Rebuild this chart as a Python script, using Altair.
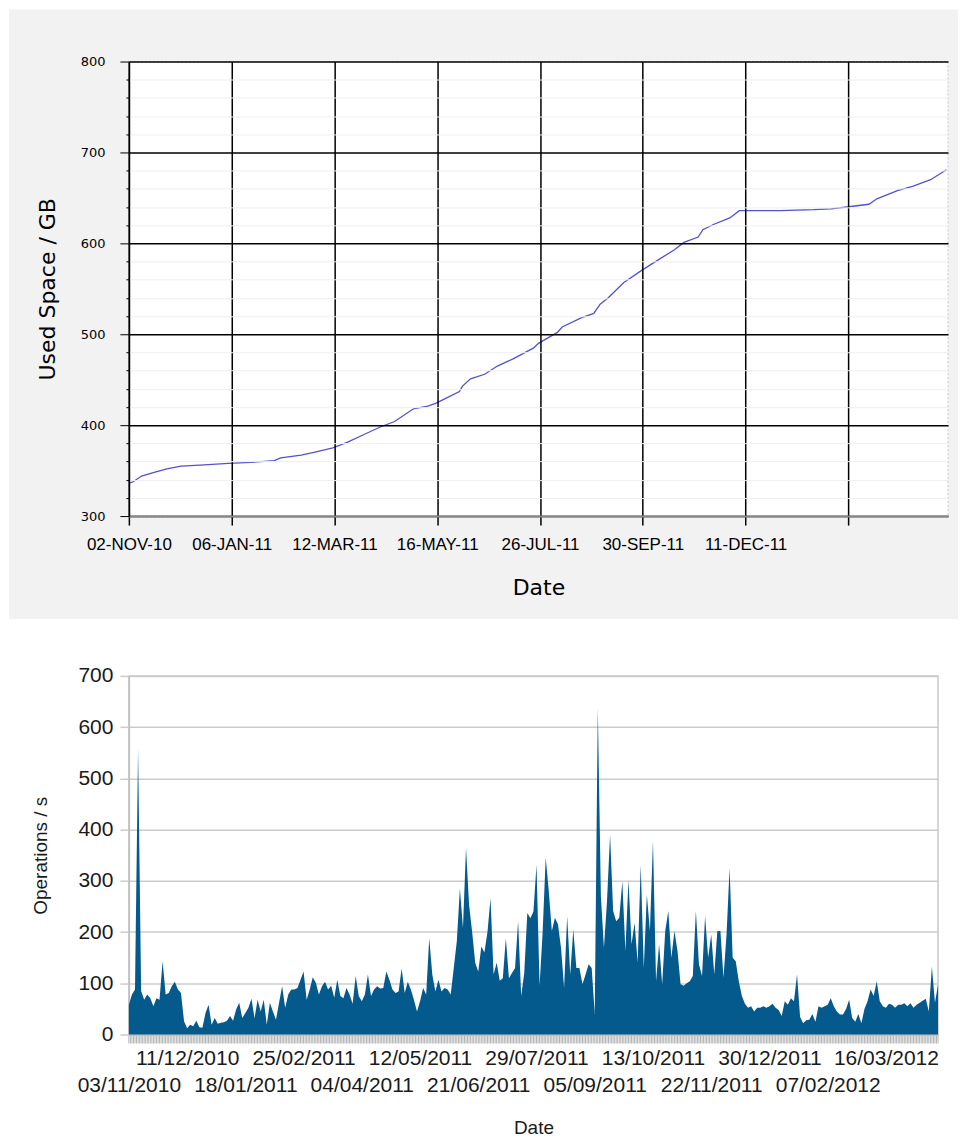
import json
import altair as alt
import pandas as pd

# ---------------- top chart: used space ----------------
top_tick_labels = ["02-NOV-10", "06-JAN-11", "12-MAR-11", "16-MAY-11",
                   "26-JUL-11", "30-SEP-11", "11-DEC-11", ""]
top_point_index = [0, 3, 8, 16, 24, 33, 45, 63, 77, 92, 96, 109, 117, 129, 138,
                   149, 159, 168, 180, 189, 194, 201, 209, 211, 216, 225, 233,
                   243, 256, 259, 265, 271, 274, 286, 294, 298, 303, 313, 324,
                   334, 345, 351, 360, 363, 370, 380, 386, 389, 412, 433, 444,
                   454, 468, 473, 486, 496, 507, 517]
top_used_gb = [336, 338, 344, 348, 352, 355, 356, 358, 359, 361, 364, 367, 370,
               375, 381, 390, 398, 404, 418, 421, 424, 430, 437, 443, 451, 456,
               465, 473, 485, 490, 496, 502, 508, 518, 523, 533, 540, 557, 570,
               581, 593, 601, 607, 615, 621, 628, 636, 636, 636, 637, 638, 640,
               643, 649, 658, 663, 670, 681]

# ---------------- bottom chart: operations / s (every 2nd point) ----------------
bottom_tick_labels = ["03/11/2010", "11/12/2010", "18/01/2011", "25/02/2011",
                      "04/04/2011", "12/05/2011", "21/06/2011", "29/07/2011",
                      "05/09/2011", "13/10/2011", "22/11/2011", "30/12/2011",
                      "07/02/2012", "16/03/2012"]
ops_per_s = [
    58, 78, 88, 558, 85, 68, 78, 71, 55, 71,
    68, 143, 78, 81, 94, 103, 88, 81, 26, 12,
    19, 16, 27, 14, 13, 42, 58, 19, 32, 21,
    23, 24, 27, 36, 27, 49, 62, 32, 42, 52,
    70, 32, 68, 45, 68, 19, 62, 45, 29, 62,
    94, 52, 78, 88, 88, 91, 107, 123, 68, 88,
    112, 101, 78, 94, 103, 88, 95, 72, 107, 75,
    71, 91, 78, 60, 114, 75, 65, 78, 117, 75,
    88, 94, 90, 91, 123, 107, 88, 81, 84, 129,
    81, 103, 88, 68, 45, 65, 91, 78, 188, 117,
    84, 107, 84, 91, 88, 78, 130, 182, 285, 208,
    364, 253, 200, 140, 123, 172, 160, 200, 266, 117,
    140, 105, 110, 188, 110, 120, 130, 221, 75, 120,
    237, 227, 240, 331, 95, 200, 345, 280, 202, 228,
    215, 169, 91, 231, 117, 205, 130, 130, 98, 117,
    137, 130, 40, 637, 270, 169, 260, 390, 241, 221,
    228, 299, 163, 302, 176, 218, 140, 331, 130, 273,
    202, 377, 104, 176, 98, 202, 241, 150, 202, 163,
    98, 95, 100, 104, 114, 241, 137, 114, 231, 150,
    195, 117, 202, 202, 111, 195, 325, 150, 143, 104,
    75, 60, 52, 55, 45, 52, 52, 55, 52, 55,
    60, 52, 48, 36, 65, 58, 71, 65, 117, 34,
    22, 28, 29, 40, 25, 55, 52, 55, 58, 71,
    55, 45, 39, 39, 50, 68, 32, 25, 40, 22,
    50, 65, 88, 75, 104, 65, 55, 52, 60, 58,
    52, 58, 58, 61, 55, 61, 52, 58, 62, 66,
    70, 45, 133, 62, 97,
]

W1, H1 = 820, 455
W2, H2 = 810, 359

df_top = pd.DataFrame({"idx": top_point_index, "gb": top_used_gb})
df_bot = pd.DataFrame({"idx": [2 * i for i in range(len(ops_per_s))], "ops": ops_per_s})
df_ticks = pd.DataFrame({"idx": list(range(0, 529))})
one = pd.DataFrame({"a": [0]})

major = "datum.value % 100 === 0"

panel = alt.Chart(one).mark_rect(color="#f2f2f2").encode(
    x=alt.value(-120), x2=alt.value(W1 + 10), y=alt.value(-52), y2=alt.value(H1 + 103)
)
plot_bg = alt.Chart(one).mark_rect(
    fill="white", stroke="#c8c8c8", strokeDash=[2, 2], strokeWidth=1
).encode(x=alt.value(0), x2=alt.value(W1), y=alt.value(0), y2=alt.value(H1))

top_line = alt.Chart(df_top).mark_line(color="#5252cc", strokeWidth=1.3).encode(
    x=alt.X("idx:Q",
            scale=alt.Scale(domain=[0, 518], nice=False, zero=False),
            axis=alt.Axis(
                values=list(range(0, 456, 65)),
                labelExpr=json.dumps(top_tick_labels) + "[round(datum.value / 65)]",
                title="Date", grid=True, gridColor="black", gridWidth=1.5,
                tickColor="black", tickSize=9, tickWidth=1.5,
                domainColor="#888888", domainWidth=2,
                labelFont="Liberation Sans", labelFontSize=17, labelColor="black",
                labelPadding=11, labelOverlap=False, labelFlush=False,
                titleFont="DejaVu Sans", titleFontSize=22, titleFontWeight="normal",
                titleColor="black", titlePadding=26, zindex=1)),
    y=alt.Y("gb:Q",
            scale=alt.Scale(domain=[300, 800], nice=False, zero=False),
            axis=alt.Axis(
                values=list(range(300, 801, 20)),
                labelExpr=major + " ? datum.label : ''",
                title="Used Space / GB", grid=True,
                gridColor={"condition": {"test": major, "value": "black"}, "value": "#eeeeee"},
                gridWidth={"condition": {"test": major, "value": 1.5}, "value": 1},
                tickSize={"condition": {"test": major, "value": 9}, "value": 3},
                tickColor="black", domainColor="black", domainWidth=1.5,
                labelFont="DejaVu Sans", labelFontSize=13, labelColor="black",
                labelPadding=15, labelOverlap=False,
                titleFont="DejaVu Sans", titleFontSize=22, titleFontWeight="normal",
                titleColor="black", titlePadding=21, zindex=1)),
)

top = alt.layer(panel, plot_bg, top_line).properties(width=W1, height=H1)

lab_js = json.dumps(bottom_tick_labels)
bottom_label_expr = (
    "datum.value % 38 === 0 && datum.value <= 494 ? "
    "((datum.value / 38) % 2 === 0 ? ['', " + lab_js + "[datum.value / 38]] : "
    + lab_js + "[datum.value / 38]) : ''"
)

x_bot = alt.X("idx:Q",
              scale=alt.Scale(domain=[0, 528], nice=False, zero=False),
              axis=alt.Axis(
                  values=list(range(0, 529, 38)),
                  labelExpr=bottom_label_expr,
                  title="Date", grid=False, ticks=False,
                  domainColor="#c0c0c0", domainWidth=1.5,
                  labelFont="Liberation Sans", labelFontSize=21, labelColor="#1a1a1a",
                  labelPadding=13, labelLineHeight=27, labelBaseline="top",
                  labelOverlap=False, labelFlush=False,
                  titleFont="Liberation Sans", titleFontSize=19, titleFontWeight="normal",
                  titleColor="#1a1a1a", titlePadding=23))

area = alt.Chart(df_bot).mark_area(color="#045a8d").encode(
    x=x_bot,
    y=alt.Y("ops:Q",
            scale=alt.Scale(domain=[0, 700], nice=False),
            axis=alt.Axis(
                values=list(range(0, 701, 100)),
                title="Operations / s", grid=True, gridColor="#cccccc", gridWidth=1.5,
                tickColor="#cccccc", tickSize=9, tickWidth=1.5,
                domainColor="#c0c0c0", domainWidth=1.5,
                labelFont="Liberation Sans", labelFontSize=21, labelColor="#1a1a1a",
                labelPadding=7,
                titleFont="Liberation Sans", titleFontSize=19, titleFontWeight="normal",
                titleColor="#1a1a1a", titlePadding=27)),
)

# small category ticks below the axis, one per data day
day_ticks = alt.Chart(df_ticks).mark_rule(color="#b4b4b4", strokeWidth=1).encode(
    x=alt.X("idx:Q"),
    y=alt.value(H2 + 1),
    y2=alt.value(H2 + 9),
)

bottom = alt.layer(area, day_ticks).properties(width=W2, height=H2)

chart = alt.vconcat(top, bottom, spacing=44).properties(
    padding={"left": 0, "top": 0, "right": 0, "bottom": 0},
    background="white",
).configure_view(stroke="#c8c8c8", strokeWidth=1.5)

chart.save("out.html", embed_options={"renderer": "svg", "actions": False})
